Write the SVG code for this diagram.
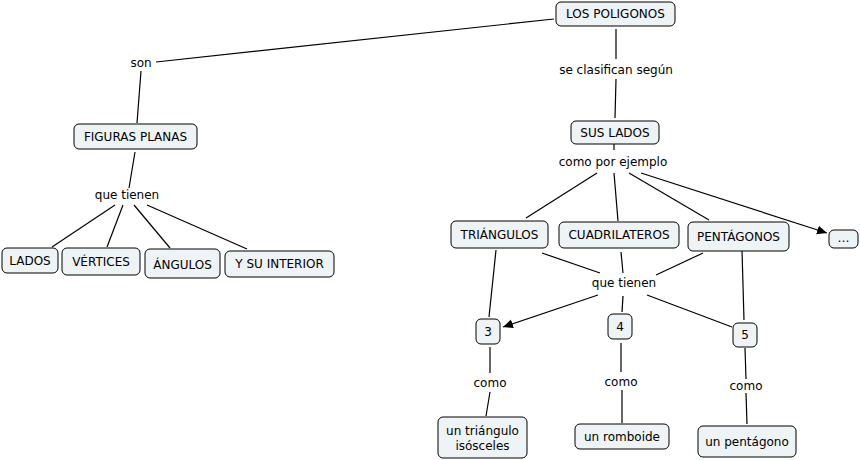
<svg xmlns="http://www.w3.org/2000/svg" width="860" height="460" viewBox="0 0 860 460">
<defs>
<style>
.n rect{fill:#eef3f6;stroke:#000;stroke-width:1}
text{font-family:"DejaVu Sans",Verdana,sans-serif;font-size:12px;fill:#000;text-anchor:middle;dominant-baseline:central}
.c line{stroke:#000;stroke-width:1.2}
</style>
<marker id="ah" viewBox="0 0 10 10" refX="10" refY="5" markerWidth="10" markerHeight="10" markerUnits="userSpaceOnUse" orient="auto"><path d="M0,0.5 L10,5 L0,9.5 z" fill="#000"/></marker>
</defs>
<rect width="860" height="460" fill="#fff"/>
<g id="connectors" class="c">
<line x1="554" y1="19" x2="156" y2="62"/>
<line x1="141" y1="71" x2="137" y2="123"/>
<line x1="135" y1="152" x2="129" y2="188"/>
<line x1="115" y1="205" x2="52" y2="247"/>
<line x1="123" y1="205" x2="107" y2="247"/>
<line x1="134" y1="205" x2="170" y2="248"/>
<line x1="147" y1="205" x2="247" y2="249"/>
<line x1="616" y1="29" x2="616" y2="59"/>
<line x1="616" y1="79" x2="615" y2="118"/>
<line x1="614" y1="143" x2="614" y2="150"/>
<line x1="597" y1="173" x2="526" y2="218"/>
<line x1="614" y1="173" x2="618" y2="221"/>
<line x1="629" y1="173" x2="709" y2="220"/>
<line x1="641" y1="173" x2="827" y2="233" marker-end="url(#ah)"/>
<line x1="542" y1="253" x2="600" y2="273"/>
<line x1="621" y1="252" x2="623" y2="273"/>
<line x1="703" y1="253" x2="656" y2="275"/>
<line x1="598" y1="295" x2="503" y2="327" marker-end="url(#ah)"/>
<line x1="623" y1="296" x2="622" y2="312"/>
<line x1="647" y1="295" x2="732" y2="327"/>
<line x1="496" y1="250" x2="489" y2="317"/>
<line x1="742" y1="250" x2="744" y2="320"/>
<line x1="490" y1="347" x2="490" y2="373"/>
<line x1="490" y1="392" x2="486" y2="416"/>
<line x1="621" y1="343" x2="621" y2="372"/>
<line x1="622" y1="390" x2="622" y2="423"/>
<line x1="745" y1="348" x2="746" y2="379"/>
<line x1="746" y1="393" x2="747" y2="424"/>
</g>
<g id="lbl-son"><text x="141" y="63">son</text></g>
<g id="lbl-clasifican"><text x="616" y="70">se clasifican según</text></g>
<g id="lbl-ejemplo"><text x="613" y="162">como por ejemplo</text></g>
<g id="lbl-tienen1"><text x="127" y="195">que tienen</text></g>
<g id="lbl-tienen2"><text x="624" y="283">que tienen</text></g>
<g id="lbl-como3"><text x="490" y="383">como</text></g>
<g id="lbl-como4"><text x="621" y="382">como</text></g>
<g id="lbl-como5"><text x="746" y="386">como</text></g>
<g id="n-poligonos" class="n"><rect x="556" y="2" width="119" height="24" rx="5"/><text x="615.5" y="14">LOS POLIGONOS</text></g>
<g id="n-sus-lados" class="n"><rect x="571" y="121" width="88" height="23" rx="5"/><text x="615" y="132.5">SUS LADOS</text></g>
<g id="n-figuras" class="n"><rect x="74" y="124" width="123" height="25" rx="5"/><text x="135.5" y="136.5">FIGURAS PLANAS</text></g>
<g id="n-lados" class="n"><rect x="2" y="248" width="56" height="25" rx="5"/><text x="30" y="260.5">LADOS</text></g>
<g id="n-vertices" class="n"><rect x="62" y="248" width="78" height="27" rx="5"/><text x="101" y="262">VÉRTICES</text></g>
<g id="n-angulos" class="n"><rect x="145" y="249" width="75" height="29" rx="5"/><text x="182.5" y="265">ÁNGULOS</text></g>
<g id="n-interior" class="n"><rect x="225" y="251" width="109" height="26" rx="5"/><text x="279.5" y="264">Y SU INTERIOR</text></g>
<g id="n-triangulos" class="n"><rect x="451" y="221" width="97" height="27" rx="5"/><text x="499.5" y="235">TRIÁNGULOS</text></g>
<g id="n-cuadrilateros" class="n"><rect x="559" y="222" width="120" height="26" rx="5"/><text x="619" y="235">CUADRILATEROS</text></g>
<g id="n-pentagonos" class="n"><rect x="688" y="222" width="101" height="29" rx="5"/><text x="738.5" y="237">PENTÁGONOS</text></g>
<g id="n-etc" class="n"><rect x="829" y="230" width="29" height="18" rx="5"/><text x="843.5" y="238">…</text></g>
<g id="n-3" class="n"><rect x="476" y="319" width="24" height="25" rx="5"/><text x="488" y="331.5">3</text></g>
<g id="n-4" class="n"><rect x="608" y="314" width="24" height="25" rx="5"/><text x="620" y="326.5">4</text></g>
<g id="n-5" class="n"><rect x="733" y="323" width="24" height="24" rx="5"/><text x="745" y="335">5</text></g>
<g id="n-isosceles" class="n"><rect x="438" y="417" width="89" height="41" rx="5"/><text x="482.5" y="431">un triángulo</text><text x="482.5" y="446">isósceles</text></g>
<g id="n-romboide" class="n"><rect x="575" y="424" width="94" height="25" rx="5"/><text x="622" y="436.5">un romboide</text></g>
<g id="n-pentagono" class="n"><rect x="698" y="426" width="98" height="31" rx="5"/><text x="747" y="441.5">un pentágono</text></g>
</svg>
